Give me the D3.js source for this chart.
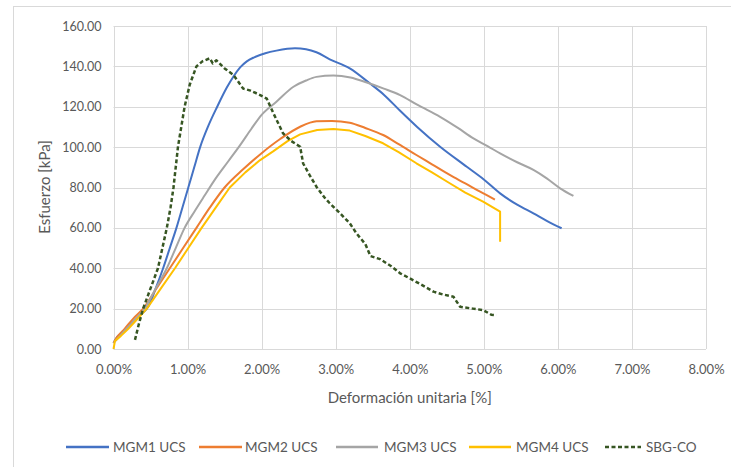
<!DOCTYPE html>
<html><head><meta charset="utf-8">
<script src="https://cdn.jsdelivr.net/npm/d3@7"></script>
<style>body{margin:0;background:#fff}svg{display:block}text{font-family:Lato,"Open Sans",sans-serif;fill:#595959}</style>
</head><body><svg id="c" width="731" height="467"></svg>
<script>
const seriesNames = ["MGM1 UCS","MGM2 UCS","MGM3 UCS","MGM4 UCS","SBG-CO"];
const xTicks = [0,1,2,3,4,5,6,7,8];
const yTicks = [0,20,40,60,80,100,120,140,160];
const mgm1 = [[0,3],[0.05,6],[0.15,9],[0.25,13],[0.32,15.5],[0.40,18],[0.47,21],[0.57,30],[0.67,40],[0.76,50],[0.85,60],[0.93,70],[1.01,80],[1.09,90],[1.17,100],[1.28,110.5],[1.40,120],[1.53,129.5],[1.62,135],[1.71,139.5],[1.8,142.5],[1.9,144.5],[2.05,146.5],[2.2,147.8],[2.45,149],[2.6,148.5],[2.74,147],[2.92,143.5],[3.19,139],[3.46,131.6],[3.65,126],[3.87,118],[4.1,110],[4.41,100.2],[4.77,90.3],[5.0,84],[5.22,77.1],[5.45,71.5],[5.67,67.2],[5.85,63.5],[6.05,59.8]];
const mgm2 = [[0,3],[0.05,6],[0.15,10],[0.27,15.2],[0.40,20],[0.58,30],[0.76,40],[0.94,50],[1.12,60],[1.3,70],[1.5,80],[1.75,89],[2.0,97],[2.25,104],[2.52,110.1],[2.74,112.8],[2.95,113],[3.19,112.1],[3.4,109.5],[3.64,106],[3.85,101.5],[4.09,96.1],[4.3,91.5],[4.54,86.2],[4.75,82],[4.95,77.9],[5.15,74]];
const mgm3 = [[0,3],[0.1,7],[0.2,11],[0.3,15],[0.42,20],[0.57,30],[0.72,40],[0.84,50],[0.96,60],[1.1,68.5],[1.23,76],[1.38,84.5],[1.55,93],[1.71,101],[1.86,109],[2.0,116],[2.2,122.5],[2.43,129.9],[2.6,133],[2.74,134.8],[2.97,135.5],[3.2,134.5],[3.42,132],[3.65,129],[3.87,125.8],[4.1,121],[4.41,115],[4.65,109.5],[4.86,104.3],[5.05,100.5],[5.22,96.9],[5.45,92.5],[5.67,88.7],[5.85,84.5],[6.03,79.6],[6.21,75.8]];
const mgm4 = [[0,0],[0.02,4],[0.1,6.5],[0.2,10],[0.3,14],[0.45,20],[0.64,30],[0.83,40],[1.01,50],[1.19,60],[1.38,70],[1.57,80],[1.78,87.5],[1.98,93.6],[2.16,98],[2.35,103],[2.52,106.3],[2.75,108.5],[2.97,109],[3.19,108.2],[3.4,105.5],[3.64,101.9],[3.85,97.5],[4.09,92],[4.3,87.5],[4.54,82.1],[4.75,77.5],[4.99,73],[5.22,68],[5.22,53.1]];
const sbg = [[0.29,4.5],[0.34,12],[0.40,20],[0.5,30],[0.6,40],[0.66,50],[0.72,60],[0.77,70],[0.81,80],[0.84,90],[0.87,100],[0.915,110],[0.96,120],[1.03,131],[1.12,140],[1.2,142.5],[1.30,144],[1.34,141.5],[1.39,143],[1.5,139],[1.62,135.7],[1.75,129],[1.85,128],[1.98,125.8],[2.07,124],[2.16,116.7],[2.29,106.8],[2.4,103],[2.52,100.2],[2.56,92],[2.65,86],[2.74,80.4],[2.85,75],[2.92,72.2],[3.06,67.2],[3.19,62.3],[3.28,57.3],[3.4,52],[3.47,46],[3.6,44.5],[3.75,41],[3.87,37.5],[4.0,35],[4.15,32],[4.32,28.4],[4.45,27],[4.59,25.9],[4.68,20.9],[4.85,20],[4.99,19.3],[5.1,17],[5.17,16.8]];
const colors = ["#4472C4","#ED7D31","#A5A5A5","#FFC000","#375623"];
const allData = [mgm1,mgm2,mgm3,mgm4,sbg];

const svg = d3.select("#c");
svg.append("rect").attr("x",13.5).attr("y",6.5).attr("width",740).attr("height",480).attr("fill","none").attr("stroke","#d9d9d9");
const x = d3.scaleLinear().domain([0,8]).range([113.5,706]);
const y = d3.scaleLinear().domain([0,160]).range([349,26]);

const grid = svg.append("g");
grid.selectAll("line.h").data(yTicks).join("line").attr("x1",x(0)).attr("x2",x(8)).attr("y1",d=>Math.round(y(d))+0.5).attr("y2",d=>Math.round(y(d))+0.5).attr("stroke","#d9d9d9");
grid.selectAll("line.v").data(xTicks).join("line").attr("y1",y(0)).attr("y2",y(160)).attr("x1",d=>Math.round(x(d))+0.5).attr("x2",d=>Math.round(x(d))+0.5).attr("stroke","#d9d9d9");

const yAxis = d3.axisLeft(y).tickValues(yTicks).tickSize(0).tickPadding(12).tickFormat(d=>d.toFixed(2));
svg.append("g").attr("transform",`translate(${x(0)},0)`).call(yAxis).call(g=>g.select(".domain").remove()).selectAll("text").style("font-size","12.5px").attr("fill","#595959");
const xAxis = d3.axisBottom(x).tickValues(xTicks).tickSize(0).tickPadding(16).tickFormat(d=>d.toFixed(2)+"%");
svg.append("g").attr("transform",`translate(0,${y(0)})`).call(xAxis).call(g=>g.select(".domain").remove()).selectAll("text").style("font-size","13px").attr("fill","#595959");

svg.append("text").attr("x",(x(0)+x(8))/2).attr("y",403).attr("text-anchor","middle").style("font-size","15px").text("Deformación unitaria [%]");
svg.append("text").attr("transform","translate(50,187) rotate(-90)").attr("text-anchor","middle").style("font-size","15px").text("Esfuerzo [kPa]");

const smooth = d3.line().x(d=>x(d[0])).y(d=>y(d[1])).curve(d3.curveMonotoneX);
const jagged = d3.line().x(d=>x(d[0])).y(d=>y(d[1]));
allData.forEach((data,i)=>{
  svg.append("path").datum(data).attr("d",(i===3||i===4)?jagged:smooth).attr("fill","none").attr("stroke",colors[i])
    .attr("stroke-width", i===4?2.5:2).attr("stroke-dasharray", i===4?"4,2.5":null).attr("stroke-linejoin","round");
});

const legLine = [66,199,336,469,605];
const legLen = [43,43,42,42,36];
const legText = [113,245,384,516,646];
const leg = svg.append("g");
seriesNames.forEach((n,i)=>{
  leg.append("line").attr("x1",legLine[i]).attr("x2",legLine[i]+legLen[i]).attr("y1",447).attr("y2",447).attr("stroke",colors[i]).attr("stroke-width",2.5).attr("stroke-dasharray",i===4?"4,2.5":null);
  leg.append("text").attr("x",legText[i]).attr("y",452).style("font-size","13.5px").text(n);
});
</script></body></html>
